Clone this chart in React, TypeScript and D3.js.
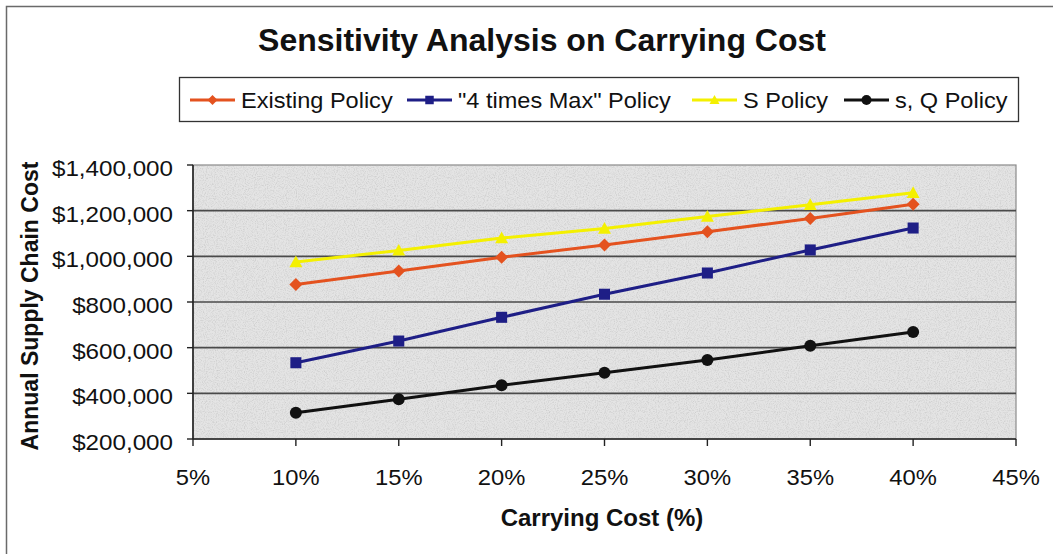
import React from "react";
import * as d3 from "d3";

// Carrying cost (%) on the x axis
const carryingCost = [10, 15, 20, 25, 30, 35, 40];

// Annual supply chain cost per policy ($)
const existingPolicy = [877000, 936000, 996000, 1050000, 1108000, 1166000, 1228000];
const fourTimesMaxPolicy = [534000, 629000, 733000, 834000, 927000, 1028000, 1124000];
const sPolicy = [975000, 1026000, 1080000, 1122000, 1174000, 1226000, 1278000];
const sQPolicy = [315000, 374000, 435000, 490000, 546000, 608000, 669000];

const seriesNames = ["Existing Policy", "\"4 times Max\" Policy", "S Policy", "s, Q Policy"];
const seriesColors = ["#E4521F", "#1E1E86", "#F4F000", "#111111"];
const seriesMarkers = ["diamond", "square", "triangle", "circle"];

const xTicks = [5, 10, 15, 20, 25, 30, 35, 40, 45];
const yTicks = [200000, 400000, 600000, 800000, 1000000, 1200000, 1400000];

const title = "Sensitivity Analysis on Carrying Cost";
const xTitle = "Carrying Cost (%)";
const yTitle = "Annual Supply Chain Cost";

const W = 1053;
const H = 554;
const plot = { left: 193, right: 1016, top: 165, bottom: 439 };
const FONT = "'Liberation Sans', Arial, Helvetica, sans-serif";

function markerPath(kind: string, size: number): string {
  const h = size / 2;
  switch (kind) {
    case "diamond":
      return `M0,${-h}L${h},0L0,${h}L${-h},0Z`;
    case "square":
      return `M${-h * 0.85},${-h * 0.85}H${h * 0.85}V${h * 0.85}H${-h * 0.85}Z`;
    case "triangle":
      return `M0,${-h}L${h},${h * 0.8}L${-h},${h * 0.8}Z`;
    default:
      return d3.symbol(d3.symbolCircle, Math.PI * h * h)() as string;
  }
}

function SText(props: {
  x: number;
  y: number;
  sx?: number;
  anchor?: string;
  size: number;
  weight?: string | number;
  children: React.ReactNode;
}) {
  const { x, y, sx = 1, anchor = "start", size, weight = "normal", children } = props;
  return (
    <text
      transform={`translate(${x},${y}) scale(${sx},1)`}
      textAnchor={anchor}
      fontSize={size}
      fontWeight={weight}
      fontFamily={FONT}
      fill="#111"
    >
      {children}
    </text>
  );
}

export default function App() {
  const x = d3.scaleLinear().domain([5, 45]).range([plot.left, plot.right]);
  const y = d3.scaleLinear().domain([200000, 1400000]).range([plot.bottom, plot.top]);
  const fmt = d3.format("$,.0f");

  const allSeries = [existingPolicy, fourTimesMaxPolicy, sPolicy, sQPolicy];
  const line = d3
    .line<number>()
    .x((_, i) => x(carryingCost[i]))
    .y((d) => y(d));

  // legend item start positions along the box
  const legendLineX = [190, 407, 692, 844];
  const legendY = 100;

  return (
    <svg
      width={W}
      height={H}
      viewBox={`0 0 ${W} ${H}`}
      style={{ position: "absolute", left: 0, top: 0, background: "#fff" }}
    >
      <defs>
        <filter id="grain" x="0" y="0" width="100%" height="100%">
          <feTurbulence type="fractalNoise" baseFrequency="0.9" numOctaves={2} seed={3} stitchTiles="stitch" />
          <feColorMatrix
            type="matrix"
            values="0 0 0 0 0.4  0 0 0 0 0.4  0 0 0 0 0.4  2.2 0 0 0 -0.95"
          />
        </filter>
      </defs>

      {/* chart frame */}
      <rect x={6.5} y={6.5} width={W + 20} height={H + 20} fill="#fff" stroke="#6a6a6a" strokeWidth={1.5} />

      {/* title */}
      <SText x={542} y={51} anchor="middle" size={32} weight="bold">
        {title}
      </SText>

      {/* legend */}
      <rect x={179.5} y={77.5} width={839} height={44} fill="#fff" stroke="#333" strokeWidth={1.3} />
      {seriesNames.map((name, i) => {
        const lx = legendLineX[i];
        return (
          <g key={name}>
            <line x1={lx} x2={lx + 45} y1={legendY} y2={legendY} stroke={seriesColors[i]} strokeWidth={3} />
            <path
              d={markerPath(seriesMarkers[i], 10)}
              transform={`translate(${lx + 22.5},${legendY})`}
              fill={seriesColors[i]}
            />
            <SText x={lx + 51} y={108} size={22} sx={1.07}>
              {name}
            </SText>
          </g>
        );
      })}

      {/* plot area */}
      <rect
        x={plot.left}
        y={plot.top}
        width={plot.right - plot.left}
        height={plot.bottom - plot.top}
        fill="#e4e4e4"
      />
      <rect
        x={plot.left}
        y={plot.top}
        width={plot.right - plot.left}
        height={plot.bottom - plot.top}
        filter="url(#grain)"
        opacity={0.4}
      />
      <rect
        x={plot.left}
        y={plot.top}
        width={plot.right - plot.left}
        height={plot.bottom - plot.top}
        fill="none"
        stroke="#8a8a8a"
        strokeWidth={1.2}
      />

      {/* gridlines */}
      {yTicks
        .filter((t) => t > 200000 && t < 1400000)
        .map((t) => (
          <line
            key={t}
            x1={plot.left}
            x2={plot.right}
            y1={y(t)}
            y2={y(t)}
            stroke="#4a4a4a"
            strokeWidth={1.6}
          />
        ))}

      {/* axes */}
      <line x1={plot.left} x2={plot.left} y1={plot.top} y2={plot.bottom} stroke="#222" strokeWidth={1.6} />
      <line x1={plot.left} x2={plot.right} y1={plot.bottom} y2={plot.bottom} stroke="#222" strokeWidth={1.6} />

      {yTicks.map((t) => (
        <g key={t}>
          <line x1={plot.left - 6} x2={plot.left} y1={y(t)} y2={y(t)} stroke="#222" strokeWidth={1.4} />
          <SText x={plot.left - 20} y={y(t) + 11} anchor="end" size={22} sx={1.1}>
            {fmt(t)}
          </SText>
        </g>
      ))}

      {xTicks.map((t) => (
        <g key={t}>
          <line x1={x(t)} x2={x(t)} y1={plot.bottom} y2={plot.bottom + 7} stroke="#222" strokeWidth={1.4} />
          <SText x={x(t)} y={plot.bottom + 46} anchor="middle" size={22} sx={1.08}>
            {`${t}%`}
          </SText>
        </g>
      ))}

      {/* axis titles */}
      <SText x={602} y={526} anchor="middle" size={24} weight="bold">
        {xTitle}
      </SText>
      <text
        transform={`translate(38,306) rotate(-90)`}
        textAnchor="middle"
        fontSize={23}
        fontWeight="bold"
        fontFamily={FONT}
        fill="#111"
      >
        {yTitle}
      </text>

      {/* series */}
      {allSeries.map((vals, si) => (
        <g key={seriesNames[si]}>
          <path d={line(vals) as string} fill="none" stroke={seriesColors[si]} strokeWidth={3} />
          {vals.map((v, i) => (
            <path
              key={i}
              d={markerPath(seriesMarkers[si], seriesMarkers[si] === "circle" ? 12 : 13)}
              transform={`translate(${x(carryingCost[i])},${y(v)})`}
              fill={seriesColors[si]}
            />
          ))}
        </g>
      ))}
    </svg>
  );
}
